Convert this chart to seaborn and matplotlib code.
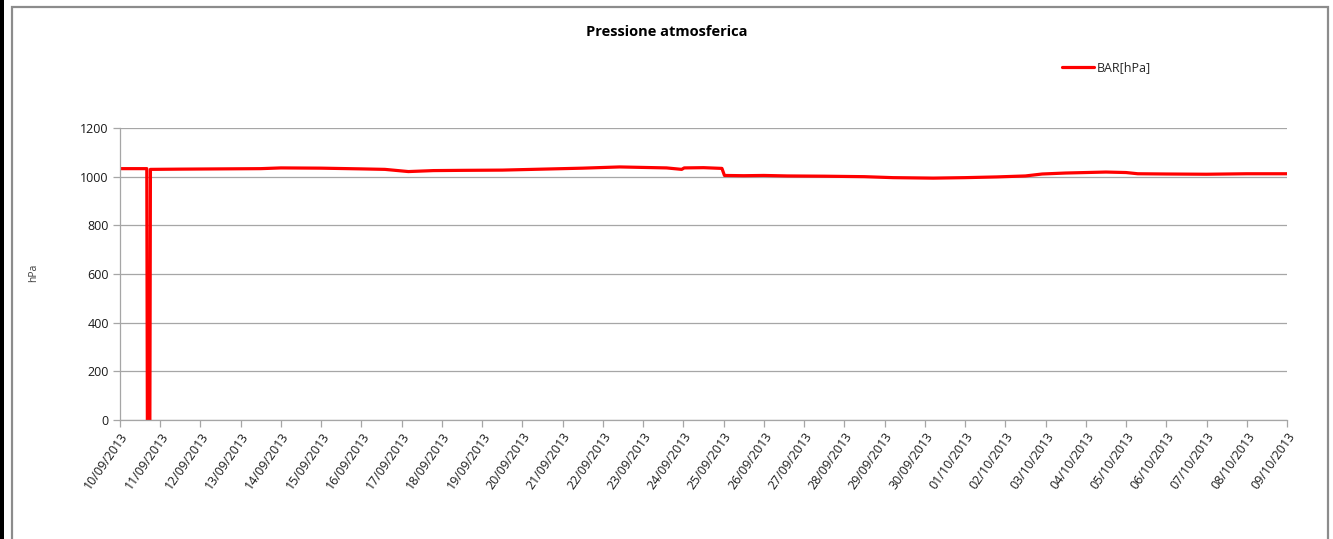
import matplotlib
matplotlib.use("Agg")
import matplotlib.pyplot as plt
import matplotlib.dates as mdates
from matplotlib.patches import Rectangle
import pandas as pd
import seaborn as sns

# ---- data ----
times = [
    "2013-09-10 00:00", "2013-09-10 16:00", "2013-09-10 16:20", "2013-09-10 17:50",
    "2013-09-10 18:10",
    "2013-09-11 12:00", "2013-09-12 12:00", "2013-09-13 12:00", "2013-09-14 00:00",
    "2013-09-15 00:00", "2013-09-16 00:00", "2013-09-16 14:00", "2013-09-17 04:00",
    "2013-09-17 19:00", "2013-09-18 12:00", "2013-09-19 12:00", "2013-09-20 12:00",
    "2013-09-21 12:00", "2013-09-22 10:00", "2013-09-23 00:00", "2013-09-23 14:00",
    "2013-09-23 23:00", "2013-09-24 00:30", "2013-09-24 12:00", "2013-09-24 23:00",
    "2013-09-25 00:30", "2013-09-25 12:00", "2013-09-26 00:00", "2013-09-26 14:00",
    "2013-09-27 12:00", "2013-09-28 12:00", "2013-09-29 05:00", "2013-09-30 05:00",
    "2013-10-01 00:00", "2013-10-01 19:00", "2013-10-02 12:00", "2013-10-02 22:00",
    "2013-10-03 12:00", "2013-10-04 12:00", "2013-10-05 00:00", "2013-10-05 07:00",
    "2013-10-06 00:00", "2013-10-07 00:00", "2013-10-08 00:00", "2013-10-09 00:00",
]
bar_hpa = [
    1033, 1033, 0, 0,
    1030,
    1031, 1032, 1033, 1036,
    1035, 1032, 1030, 1021,
    1025, 1026, 1027, 1031,
    1035, 1040, 1038, 1036,
    1030, 1036, 1037, 1034,
    1005, 1004, 1005, 1003,
    1002, 1000, 996, 994,
    996, 999, 1003, 1011,
    1015, 1019, 1017, 1012,
    1011, 1010, 1012, 1012,
]
y_ticks = [0, 200, 400, 600, 800, 1000, 1200]
title = "Pressione atmosferica"
series_name = "BAR[hPa]"
y_label = "hPa"

df = pd.DataFrame({"time": pd.to_datetime(times), "value": bar_hpa})

sns.set_theme(style="white")
plt.rcParams["font.family"] = ["Open Sans", "DejaVu Sans"]

fig = plt.figure(figsize=(13.33, 5.39), dpi=100)
ax = fig.add_axes([0.090, 0.2208, 0.8755, 0.5417])

sns.lineplot(data=df, x="time", y="value", ax=ax, color="#FF0000",
             linewidth=2.3, label=series_name)

x0 = pd.Timestamp("2013-09-10")
x1 = pd.Timestamp("2013-10-09")
ax.set_xlim(x0, x1)
ax.set_ylim(0, 1200)
ax.set_yticks(y_ticks)
ax.set_xticks(pd.date_range(x0, x1, freq="D"))
ax.xaxis.set_major_formatter(mdates.DateFormatter("%d/%m/%Y"))
for lbl in ax.get_xticklabels():
    lbl.set_rotation(55)
    lbl.set_ha("right")
    lbl.set_rotation_mode("anchor")

ax.yaxis.grid(True, color="#A6A6A6", linewidth=0.9)
ax.xaxis.grid(False)
for s in ["top", "right"]:
    ax.spines[s].set_visible(False)
for s in ["left", "bottom"]:
    ax.spines[s].set_color("#A6A6A6")
    ax.spines[s].set_linewidth(0.9)
ax.tick_params(axis="x", which="major", direction="out", length=5, width=0.9,
               color="#A6A6A6", labelsize=9, labelcolor="#1A1A1A", pad=2, bottom=True)
ax.tick_params(axis="y", which="major", direction="out", length=5, width=0.9,
               color="#A6A6A6", labelsize=9, labelcolor="#1A1A1A", pad=3, left=True)

ax.set_xlabel("")
ax.set_ylabel("")
fig.text(0.025, 0.493, y_label, rotation=90, fontsize=7.5, color="#404040",
         ha="center", va="center")
fig.text(0.5, 0.940, title, fontsize=10.5, fontweight="bold", color="#000000",
         ha="center", va="center")

ax.legend(loc="center left", bbox_to_anchor=(0.807, 1.206), frameon=False,
          fontsize=9, handlelength=2.6, handletextpad=0.2, borderaxespad=0,
          borderpad=0)

# outer chart frame and left dark edge
fig.add_artist(Rectangle((12 / 1333, -0.05), 1316 / 1333, 1 - 7 / 539 + 0.05,
                         transform=fig.transFigure, fill=False,
                         edgecolor="#8C8C8C", linewidth=1.6))
fig.add_artist(Rectangle((0, 0), 4 / 1333, 1, transform=fig.transFigure,
                         facecolor="#000000", edgecolor="none"))

fig.savefig("out.png", dpi=100)
